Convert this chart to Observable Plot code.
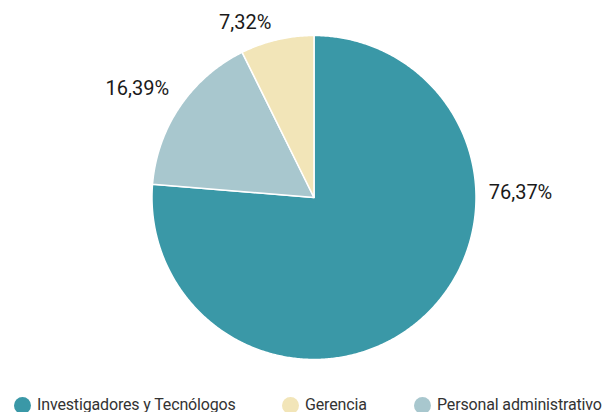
<!DOCTYPE html>
<html>
<head>
<meta charset="utf-8">
<script src="https://cdn.jsdelivr.net/npm/d3@7"></script>
<script src="https://cdn.jsdelivr.net/npm/@observablehq/plot@0.6"></script>
<style>
  html, body { margin: 0; padding: 0; background: #fff; overflow: hidden; }
  #chart svg { display: block; }
  .legend { position: relative; height: 20px; font-family: Roboto, "Open Sans", sans-serif; font-size: 16px; color: #333; letter-spacing: -0.15px; }
  .legend .item { position: absolute; top: 4px; height: 18px; line-height: 18px; display: flex; align-items: center; white-space: nowrap; }
  .legend .sw { width: 17px; height: 17px; border-radius: 50%; margin-right: 6px; flex: none; }
</style>
</head>
<body>
<div id="chart"></div>
<div class="legend" id="legend"></div>
<script>
// Data
const categories = ["Investigadores y Tecnólogos", "Personal administrativo", "Gerencia"];
const values = [76.37, 16.39, 7.32];
const labels = ["76,37%", "16,39%", "7,32%"];
const colors = ["#3A98A7", "#A8C7CE", "#F2E5B8"];
const legendOrder = ["Investigadores y Tecnólogos", "Gerencia", "Personal administrativo"];

// Label placement (angle in degrees clockwise from top, radius in pie-radius units)
const labelAngle = [88.6, 301.6, 338.5];
const labelRadius = [1.275, 1.28, 1.16];

// Build slice polygons from values
const arcs = d3.pie().sort(null).startAngle(0).endAngle(2 * Math.PI)(values);
const pts = [];
arcs.forEach((a, i) => {
  pts.push({cat: categories[i], x: 0, y: 0});
  const n = Math.max(2, Math.ceil((a.endAngle - a.startAngle) / (Math.PI / 360)));
  for (let k = 0; k <= n; k++) {
    const t = a.startAngle + (a.endAngle - a.startAngle) * k / n;
    pts.push({cat: categories[i], x: Math.sin(t), y: Math.cos(t)});
  }
  pts.push({cat: categories[i], x: 0, y: 0});
});
const labelData = labels.map((l, i) => {
  const t = labelAngle[i] * Math.PI / 180;
  return {label: l, x: labelRadius[i] * Math.sin(t), y: labelRadius[i] * Math.cos(t)};
});

const chart = Plot.plot({
  width: 613,
  height: 392,
  margin: 0,
  x: {domain: [-1, 1], range: [151.5, 475.5], axis: null},
  y: {domain: [-1, 1], range: [359, 35], axis: null},
  color: {domain: categories, range: colors},
  style: {fontFamily: "Roboto, 'Open Sans', sans-serif", background: "#fff"},
  marks: [
    Plot.line(pts, {x: "x", y: "y", z: "cat", fill: "cat", stroke: "white", strokeWidth: 1.5, curve: "linear-closed"}),
    Plot.text(labelData, {x: "x", y: "y", text: "label", fontSize: 20, fill: "#1a1a1a"})
  ]
});
document.getElementById("chart").appendChild(chart);

// Legend
const legendX = [14, 282, 414];
const leg = document.getElementById("legend");
legendOrder.forEach((c, i) => {
  const it = document.createElement("div");
  it.className = "item";
  it.style.left = legendX[i] + "px";
  const sw = document.createElement("span");
  sw.className = "sw";
  sw.style.background = colors[categories.indexOf(c)];
  it.appendChild(sw);
  it.appendChild(document.createTextNode(c));
  leg.appendChild(it);
});
</script>
</body>
</html>
